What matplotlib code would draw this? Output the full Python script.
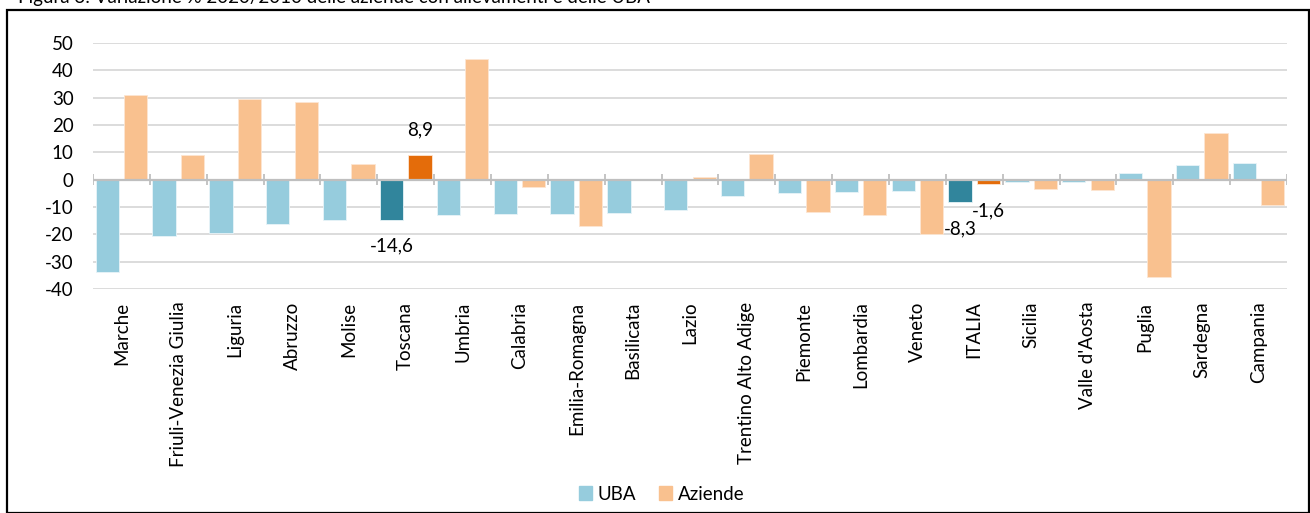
import numpy as np
import matplotlib
matplotlib.use("Agg")
import matplotlib.pyplot as plt
from matplotlib.patches import Rectangle, Patch

plt.rcParams["font.family"] = ["Lato", "DejaVu Sans"]

regions = ["Marche", "Friuli-Venezia Giulia", "Liguria", "Abruzzo", "Molise",
           "Toscana", "Umbria", "Calabria", "Emilia-Romagna", "Basilicata",
           "Lazio", "Trentino Alto Adige", "Piemonte", "Lombardia", "Veneto",
           "ITALIA", "Sicilia", "Valle d'Aosta", "Puglia", "Sardegna", "Campania"]
uba = [-33.8, -20.7, -19.4, -16.3, -14.8, -14.6, -13.0, -12.7, -12.4, -12.1,
       -11.1, -6.0, -4.9, -4.6, -4.3, -8.3, -1.0, -0.7, 2.3, 5.4, 6.2]
aziende = [30.8, 9.1, 29.5, 28.3, 5.7, 8.9, 44.0, -2.7, -16.9, 0.3,
           1.1, 9.4, -12.0, -13.1, -20.0, -1.6, -3.5, -3.8, -35.6, 16.9, -9.2]
highlighted = ["Toscana", "ITALIA"]
yticks = [-40, -30, -20, -10, 0, 10, 20, 30, 40, 50]
title = "Figura 3: Variazione % 2020/2010 delle aziende con allevamenti e delle UBA"

UBA_C, UBA_HI = "#96CCDD", "#31859C"
AZ_C, AZ_HI = "#F9C18F", "#E46C0A"
FS = 13.5

fig = plt.figure(figsize=(13.10, 5.13), dpi=100)
ax = fig.add_axes([0.071, 0.4366, 0.9114, 0.4796])

x = np.arange(len(regions))
w = 0.41
uba_cols = [UBA_HI if r in highlighted else UBA_C for r in regions]
az_cols = [AZ_HI if r in highlighted else AZ_C for r in regions]
ax.bar(x - 0.25, uba, w, color=uba_cols, edgecolor="#E8F4F8", linewidth=0.6, zorder=3)
ax.bar(x + 0.25, aziende, w, color=az_cols, edgecolor="#FDE6D2", linewidth=0.6, zorder=3)

# value labels for the highlighted categories
for i, r in enumerate(regions):
    if r not in highlighted:
        continue
    for off, v in ((-0.25, uba[i]), (0.25, aziende[i])):
        dy = 18 if v > 0 else -19
        ax.annotate(f"{v:.1f}".replace(".", ","), (x[i] + off, v),
                    xytext=(0, dy), textcoords="offset points",
                    ha="center", va="center", fontsize=FS, color="#000000",
                    zorder=5)

ax.set_xlim(-0.5, len(regions) - 0.5)
ax.set_ylim(-40, 50)
ax.set_yticks(yticks)
ax.set_yticklabels([str(t) for t in yticks], fontsize=FS)
ax.yaxis.grid(True, color="#D9D9D9", linewidth=1.3, zorder=0)
ax.set_axisbelow(True)

# zero axis line with category separators
ax.axhline(0, color="#BFBFBF", linewidth=1.6, zorder=4)
ax.vlines(np.arange(len(regions) + 1) - 0.5, -1.9, 1.9, color="#BFBFBF",
          linewidth=1.3, zorder=4)

ax.set_xticks(x)
ax.set_xticklabels(regions, rotation=90, fontsize=FS, va="top", ha="center")
ax.tick_params(axis="x", length=0, pad=9)
ax.tick_params(axis="y", length=0, pad=14)
for s in ax.spines.values():
    s.set_visible(False)

handles = [Patch(color=UBA_C, label="UBA"), Patch(color=AZ_C, label="Aziende")]
fig.legend(handles=handles, loc="center", bbox_to_anchor=(0.505, 0.037), ncol=2,
           frameon=False, fontsize=FS, handlelength=0.7, handleheight=0.7,
           handletextpad=0.3, columnspacing=1.2)

# outer frame and caption
fig.add_artist(Rectangle((7 / 1310, 0.0), 1 - 8 / 1310, 1 - 10 / 513,
                         transform=fig.transFigure, fill=False,
                         edgecolor="black", linewidth=1.6))
fig.text(18 / 1310, 1 - 2.5 / 513, title, fontsize=FS, va="baseline",
         ha="left")

fig.savefig("out.png", dpi=100)
